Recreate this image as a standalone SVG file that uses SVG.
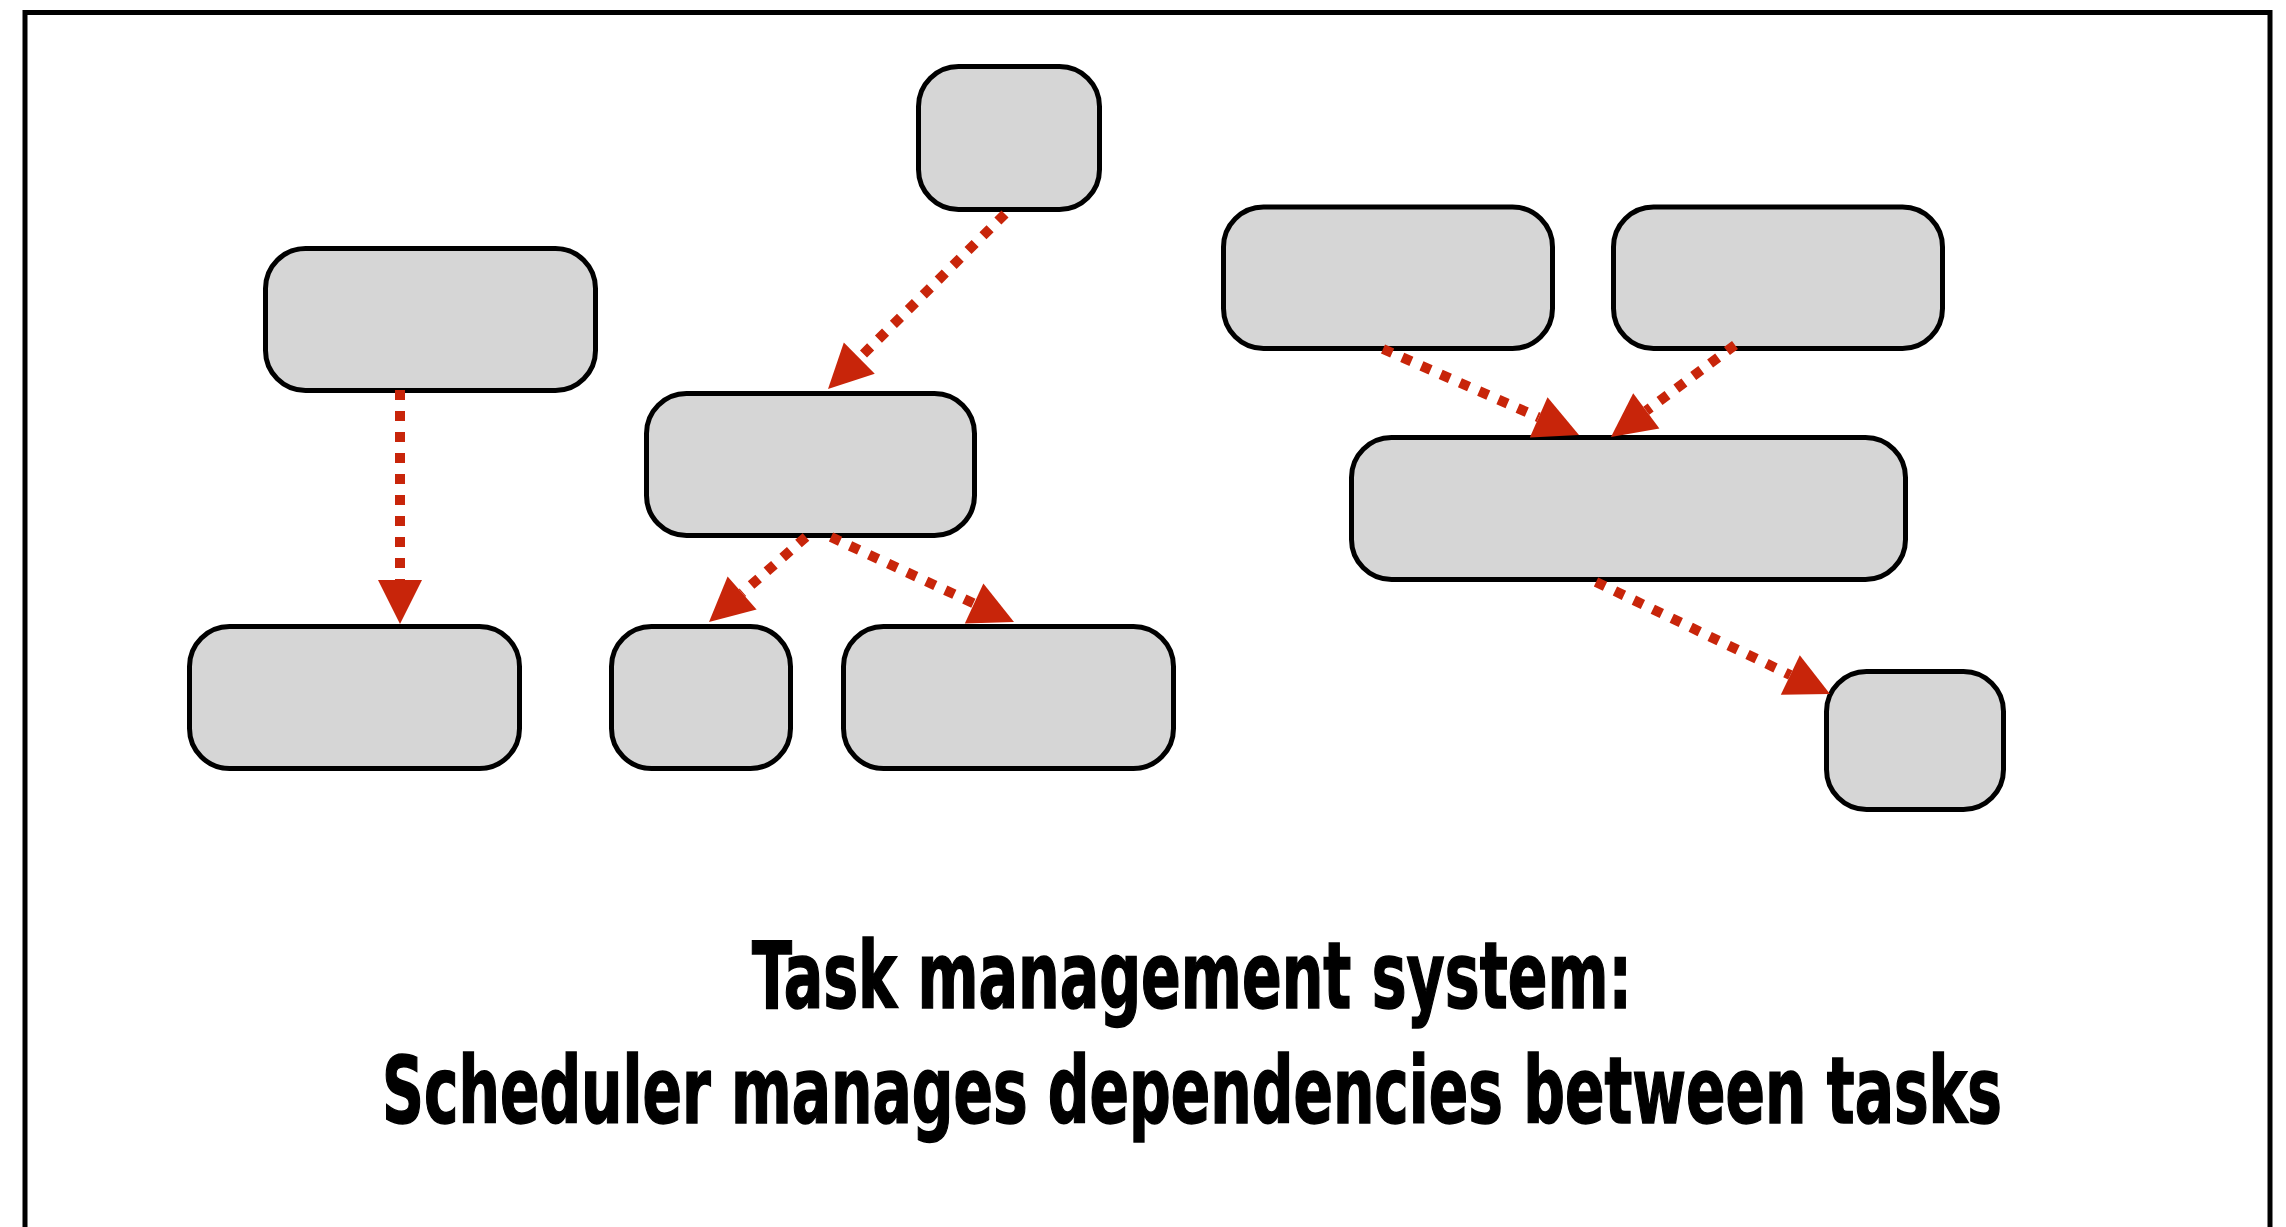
<svg xmlns="http://www.w3.org/2000/svg" width="2286" height="1227" viewBox="0 0 2286 1227">
  <style>
    .node { fill: #d6d6d6; stroke: #000000; stroke-width: 5; }
    .edge { fill: none; stroke: #c8250a; stroke-width: 10; stroke-dasharray: 10 11; marker-end: url(#arrow); }
    .title { font-family: "DejaVu Sans Condensed", "DejaVu Sans", sans-serif; font-weight: bold; font-size: 92px; fill: #000000; stroke: #000000; stroke-width: 1.5; text-anchor: middle; }
  </style>
  <defs>
    <marker id="arrow" markerUnits="userSpaceOnUse" markerWidth="44" markerHeight="44" refX="0" refY="22" orient="auto" overflow="visible">
      <path d="M0,0 L44,22 L0,44 Z" fill="#c8250a"/>
    </marker>
  </defs>
  <rect x="0" y="0" width="2286" height="1227" fill="#ffffff"/>
  <rect id="frame" x="25" y="12.5" width="2245" height="1300" fill="none" stroke="#000000" stroke-width="5"/>

  <g id="nodeA"><rect class="node" x="918.5" y="66.5" width="181" height="143" rx="40" ry="40"/></g>
  <g id="nodeB"><rect class="node" x="265.5" y="248.5" width="330" height="142" rx="40" ry="40"/></g>
  <g id="nodeC"><rect class="node" x="189.5" y="626.5" width="330" height="142" rx="40" ry="40"/></g>
  <g id="nodeD"><rect class="node" x="646.5" y="393.5" width="328" height="142" rx="40" ry="40"/></g>
  <g id="nodeE"><rect class="node" x="611.5" y="626.5" width="179" height="142" rx="40" ry="40"/></g>
  <g id="nodeF"><rect class="node" x="843.5" y="626.5" width="330" height="142" rx="40" ry="40"/></g>
  <g id="nodeG"><rect class="node" x="1223.5" y="207" width="329" height="141.5" rx="40" ry="40"/></g>
  <g id="nodeH"><rect class="node" x="1613.5" y="207" width="329" height="141.5" rx="40" ry="40"/></g>
  <g id="nodeI"><rect class="node" x="1351.5" y="437.5" width="554" height="142" rx="40" ry="40"/></g>
  <g id="nodeJ"><rect class="node" x="1826.5" y="671.5" width="177" height="138" rx="40" ry="40"/></g>

  <g id="connectors">
    <line class="edge" x1="400" y1="390" x2="400" y2="580"/>
    <line class="edge" x1="1005" y1="214" x2="859.3" y2="358.1"/>
    <line class="edge" x1="806" y1="537" x2="742.1" y2="593.0"/>
    <line class="edge" x1="831" y1="537" x2="974.1" y2="603.5"/>
    <line class="edge" x1="1383" y1="349" x2="1538.7" y2="417.3"/>
    <line class="edge" x1="1735" y1="345" x2="1646.3" y2="410.8"/>
    <line class="edge" x1="1596" y1="582" x2="1790.3" y2="675.0"/>
  </g>

  <g id="caption" transform="translate(1192 0) scale(0.72 1)">
    <text class="title" x="0" y="1008" textLength="1222" lengthAdjust="spacingAndGlyphs">Task management system:</text>
    <text class="title" x="0" y="1123" textLength="2250" lengthAdjust="spacingAndGlyphs">Scheduler manages dependencies between tasks</text>
  </g>
</svg>
